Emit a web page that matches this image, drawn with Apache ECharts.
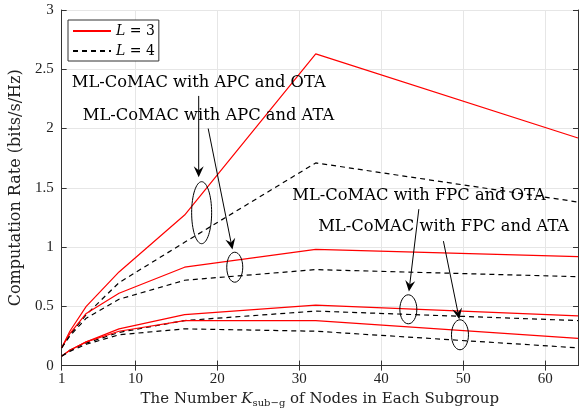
<!DOCTYPE html>
<html style="height: 100%">
<head>
    <meta charset="utf-8">
</head>
<body style="height: 100%; margin: 0; background-color: #fff;">
<div id="container" style="width: 579px; height: 413px"></div>
<script type="text/javascript" src="https://cdn.jsdelivr.net/npm/echarts@6/dist/echarts.min.js"></script>
<script type="text/javascript">
    var dom = document.getElementById("container");
    var myChart = echarts.init(dom);

    // number of nodes in each subgroup
    var kSub = [1, 2, 4, 8, 16, 32, 64];
    var xTicks = [1, 10, 20, 30, 40, 50, 60];

    // L = 3 (red, solid)
    var apcOtaL3 = [0.15, 0.29, 0.50, 0.79, 1.27, 2.63, 1.92];
    var apcAtaL3 = [0.15, 0.27, 0.44, 0.61, 0.83, 0.98, 0.92];
    var fpcOtaL3 = [0.08, 0.13, 0.20, 0.31, 0.43, 0.51, 0.42];
    var fpcAtaL3 = [0.08, 0.13, 0.20, 0.29, 0.38, 0.38, 0.23];
    // L = 4 (black, dashed)
    var apcOtaL4 = [0.15, 0.26, 0.43, 0.70, 1.04, 1.71, 1.38];
    var apcAtaL4 = [0.15, 0.25, 0.40, 0.56, 0.72, 0.81, 0.75];
    var fpcOtaL4 = [0.08, 0.13, 0.19, 0.28, 0.38, 0.46, 0.38];
    var fpcAtaL4 = [0.08, 0.12, 0.18, 0.26, 0.31, 0.29, 0.15];

    var serif = '"Liberation Serif", serif';
    var wide = '"DejaVu Serif", serif';

    function pairs(ys) {
        return kSub.map(function (k, i) { return [k, ys[i]]; });
    }

    function mkSeries(name, ys) {
        var dashed = name === 'L = 4';
        return {
            name: name,
            type: 'line',
            data: pairs(ys),
            symbol: 'none',
            animation: false,
            lineStyle: {
                color: dashed ? '#000' : '#ff0000',
                width: 1.2,
                type: dashed ? [5, 4] : 'solid'
            },
            itemStyle: { color: dashed ? '#000' : '#ff0000' }
        };
    }

    var option = {
        animation: false,
        textStyle: { fontFamily: serif },
        grid: { left: 60, right: 1, top: 10, bottom: 43 },
        legend: {
            data: ['L = 3', 'L = 4'],
            orient: 'vertical',
            left: 68,
            top: 20,
            itemWidth: 38,
            itemHeight: 10,
            itemGap: 6,
            padding: [4, 4, 3, 4],
            borderColor: '#333',
            borderWidth: 1,
            backgroundColor: '#fff',
            selectedMode: false,
            itemStyle: { opacity: 0 },
            formatter: function (n) {
                return '{it|L} = ' + n.slice(-1);
            },
            textStyle: {
                fontFamily: wide,
                fontSize: 14,
                color: '#000',
                rich: { it: { fontStyle: 'italic', fontSize: 14, fontFamily: wide } }
            }
        },
        xAxis: [{
            type: 'value',
            min: 1,
            max: 64,
            name: 'The Number {it|K}{sub|sub\u2212g} of Nodes in Each Subgroup',
            nameLocation: 'middle',
            nameGap: 24,
            nameTextStyle: {
                fontFamily: wide,
                fontSize: 15,
                color: '#222',
                rich: {
                    it: { fontStyle: 'italic', fontSize: 15, fontFamily: wide, color: '#222' },
                    sub: { fontSize: 10, fontFamily: wide, color: '#222', padding: [8, 0, 0, 0] }
                }
            },
            axisLine: { lineStyle: { color: '#333', width: 1 } },
            axisTick: { inside: true, length: 5, customValues: xTicks, lineStyle: { color: '#333' } },
            axisLabel: { customValues: xTicks, fontSize: 15, color: '#222', margin: 6 },
            splitLine: { show: true, lineStyle: { color: '#e6e6e6' } }
        }, {
            type: 'value',
            position: 'top',
            min: 1,
            max: 64,
            axisLine: { show: true, lineStyle: { color: '#333' } },
            axisTick: { show: true, inside: true, length: 5, customValues: xTicks, lineStyle: { color: '#333' } },
            axisLabel: { show: false },
            splitLine: { show: false }
        }],
        yAxis: [{
            type: 'value',
            min: 0,
            max: 3,
            interval: 0.5,
            name: 'Computation Rate (bits/s/Hz)',
            nameLocation: 'middle',
            nameGap: 33,
            nameTextStyle: { fontFamily: wide, fontSize: 16, color: '#222' },
            axisLine: { show: true, lineStyle: { color: '#333' } },
            axisTick: { show: true, inside: true, length: 5, lineStyle: { color: '#333' } },
            axisLabel: { fontSize: 15, color: '#222', margin: 8 },
            splitLine: { show: true, lineStyle: { color: '#e6e6e6' } }
        }, {
            type: 'value',
            position: 'right',
            min: 0,
            max: 3,
            interval: 0.5,
            axisLine: { show: true, lineStyle: { color: '#333' } },
            axisTick: { show: true, inside: true, length: 5, lineStyle: { color: '#333' } },
            axisLabel: { show: false },
            splitLine: { show: false }
        }],
        series: [
            mkSeries('L = 3', apcOtaL3),
            mkSeries('L = 4', apcOtaL4),
            mkSeries('L = 3', apcAtaL3),
            mkSeries('L = 4', apcAtaL4),
            mkSeries('L = 3', fpcOtaL3),
            mkSeries('L = 4', fpcOtaL4),
            mkSeries('L = 3', fpcAtaL3),
            mkSeries('L = 4', fpcAtaL4)
        ]
    };
    myChart.setOption(option);

    // annotations, anchored in data coordinates
    var labels = [
        { text: 'ML-CoMAC with APC and OTA', at: [2.24, 2.39] },
        { text: 'ML-CoMAC with APC and ATA', at: [3.58, 2.11] },
        { text: 'ML-CoMAC with FPC and OTA', at: [29.15, 1.43] },
        { text: 'ML-CoMAC with FPC and ATA', at: [32.3, 1.17] }
    ];
    var arrows = [
        { from: [17.72, 2.275], to: [17.72, 1.59] },
        { from: [18.88, 2.0], to: [21.84, 0.98] },
        { from: [44.58, 1.32], to: [43.37, 0.625] },
        { from: [47.58, 1.05], to: [49.52, 0.39] }
    ];
    var ellipses = [
        { at: [18.08, 1.29], rx: 10, ry: 31 },
        { at: [22.12, 0.83], rx: 8, ry: 15 },
        { at: [43.3, 0.475], rx: 8.5, ry: 14.5 },
        { at: [49.6, 0.26], rx: 8.5, ry: 15 }
    ];

    function px(p) { return myChart.convertToPixel({ gridIndex: 0 }, p); }

    var graphics = [];
    labels.forEach(function (l) {
        var p = px(l.at);
        graphics.push({
            type: 'text', x: p[0], y: p[1], z: 100,
            style: { text: l.text, font: '16.3px ' + wide, fill: '#000',
                     verticalAlign: 'middle' }
        });
    });
    ellipses.forEach(function (e) {
        var p = px(e.at);
        graphics.push({
            type: 'ellipse', z: 100,
            shape: { cx: p[0], cy: p[1], rx: e.rx, ry: e.ry },
            style: { fill: null, stroke: '#000', lineWidth: 1 }
        });
    });
    arrows.forEach(function (a) {
        var p0 = px(a.from), p1 = px(a.to);
        var dx = p1[0] - p0[0], dy = p1[1] - p0[1];
        var len = Math.sqrt(dx * dx + dy * dy);
        var ux = dx / len, uy = dy / len;
        var nx = -uy, ny = ux;
        var hl = 11, hw = 5, notch = 4;
        var b = [p1[0] - ux * hl, p1[1] - uy * hl];
        var m = [p1[0] - ux * (hl - notch), p1[1] - uy * (hl - notch)];
        graphics.push({
            type: 'line', z: 100,
            shape: { x1: p0[0], y1: p0[1], x2: m[0], y2: m[1] },
            style: { stroke: '#000', lineWidth: 1 }
        });
        graphics.push({
            type: 'polygon', z: 100,
            shape: { points: [p1, [b[0] + nx * hw, b[1] + ny * hw], m, [b[0] - nx * hw, b[1] - ny * hw]] },
            style: { fill: '#000' }
        });
    });
    myChart.setOption({ graphic: graphics });
</script>
</body>
</html>
